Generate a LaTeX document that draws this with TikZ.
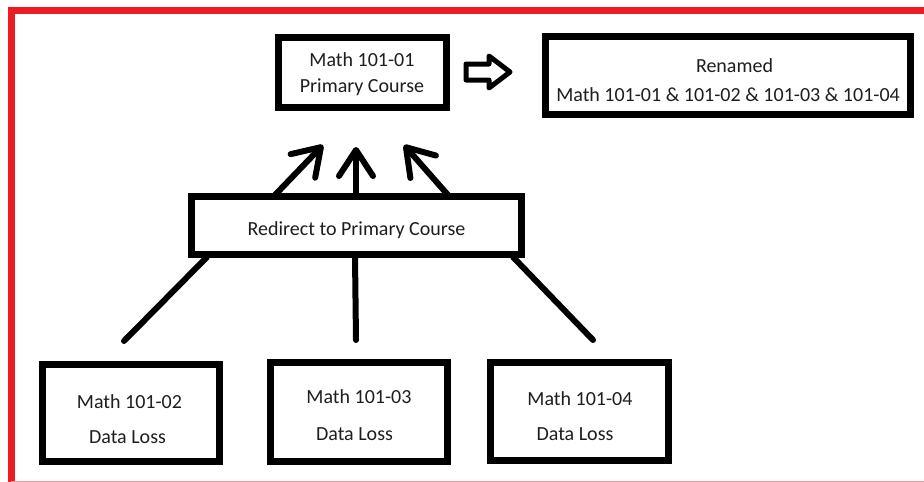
\documentclass[tikz,border=0pt]{standalone}
\usepackage{fontspec}
\setmainfont{Carlito}
\usetikzlibrary{arrows.meta}
\definecolor{paintred}{RGB}{237,28,36}
\definecolor{txt}{RGB}{30,30,30}
\tikzset{
  box/.style={draw=black, line width=7pt, rectangle, inner sep=0pt, minimum width=#1},
  lbl/.style={anchor=base, font=\fontsize{20}{24}\selectfont, text=txt, inner sep=0pt},
  uparrow/.style={line width=6pt, line cap=round, -{Straight Barb[length=26pt,width=34pt,line cap=round,line join=round]}},
  plainline/.style={line width=6pt, line cap=round},
  blockarrow/.style={draw=black, line width=5pt, line join=round}
}
\begin{document}
\begin{tikzpicture}[x=1pt,y=-1pt]
\useasboundingbox (0,0) rectangle (924,482);
\fill[white] (0,0) rectangle (924,482);
% red frame
\draw[paintred, line width=7pt] (960,10.5) -- (11,10.5) -- (11,490);
\draw[paintred!45, line width=2pt] (11,481.5) -- (960,481.5);
% boxes
\node[box=168pt, minimum height=70pt] (primary) at (362,72) {};
\node[box=365pt, minimum height=78pt] (renamed) at (727.5,75) {};
\node[box=330pt, minimum height=58pt] (redir) at (356,225) {};
\node[box=177pt, minimum height=97pt] (c2) at (130.5,412.5) {};
\node[box=177pt, minimum height=99pt] (c3) at (358.5,411.5) {};
\node[box=178pt, minimum height=98pt] (c4) at (579,411) {};
% texts
\node[lbl] (p1) at (362,66) {Math 101-01};
\node[lbl] (p2) at (362,92) {Primary Course};
\node[lbl] (r1) at (734.5,72) {Renamed};
\node[lbl] (r2) at (728,101) {Math 101-01 \& 101-02 \& 101-03 \& 101-04};
\node[lbl] (rd) at (356.5,235) {Redirect to Primary Course};
\node[lbl] (a1) at (129.5,408) {Math 101-02};
\node[lbl] (a2) at (127.5,443) {Data Loss};
\node[lbl] (b1) at (359,403) {Math 101-03};
\node[lbl] (b2) at (354.5,440) {Data Loss};
\node[lbl] (d1) at (580,405) {Math 101-04};
\node[lbl] (d2) at (575,440) {Data Loss};
% block arrow
\draw[blockarrow] (466,64) -- (489,64) -- (489,56) -- (510,72) -- (489,88) -- (489,80) -- (466,80) -- cycle;
% arrows up to primary
\coordinate (s1) at (275,195);
\coordinate (s2) at (356,195);
\coordinate (s3) at (448,195);
\coordinate (t1) at (323,145);
\coordinate (t2) at (356,147);
\coordinate (t3) at (404,145);
\draw[uparrow] (s1) -- (t1);
\draw[uparrow] (s2) -- (t2);
\draw[uparrow] (s3) -- (t3);
% lines down from redirect
\coordinate (u1) at (207,257);
\coordinate (u2) at (355,257);
\coordinate (u3) at (513,257);
\coordinate (e1) at (124,341);
\coordinate (e2) at (356,340);
\coordinate (e3) at (593,340);
\draw[plainline] (u1) -- (e1);
\draw[plainline] (u2) -- (e2);
\draw[plainline] (u3) -- (e3);
\end{tikzpicture}
\end{document}
